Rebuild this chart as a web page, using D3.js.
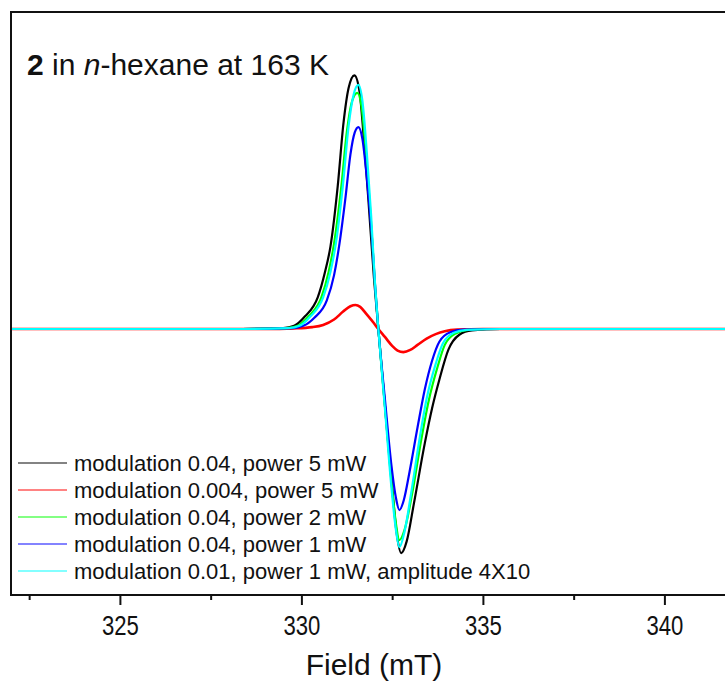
<!DOCTYPE html>
<html>
<head>
<meta charset="utf-8">
<script src="https://cdn.jsdelivr.net/npm/d3@7"></script>
<style>
  html, body { margin: 0; padding: 0; background: #fff; }
  svg { display: block; }
  text { font-family: "Liberation Sans", Arial, sans-serif; fill: #111; }
</style>
</head>
<body>
<svg id="chart" width="725" height="687"></svg>
<script>
// ---- data (field in mT, signal in arbitrary units) ----
const majorTicks = [325, 330, 335, 340];
const minorTicks = [322.5, 327.5, 332.5, 337.5, 342.5];
const xLabel = "Field (mT)";

const seriesNames = [
  "modulation 0.04, power 5 mW",
  "modulation 0.004, power 5 mW",
  "modulation 0.04, power 2 mW",
  "modulation 0.04, power 1 mW",
  "modulation 0.01, power 1 mW, amplitude 4X10"
];
const seriesColors = ["#000000", "#ff0000", "#00ff00", "#0000ff", "#00ffff"];

const blackData = [[322,0],[328,0],[329.5,0.003],[329.8,0.01],[330.1,0.04],[330.45,0.10],[330.65,0.18],[330.8,0.26],[331.0,0.45],[331.16,0.65],[331.3,0.76],[331.46,0.80],[331.6,0.75],[331.72,0.60],[331.85,0.40],[332.0,0.16],[332.12,0],[332.3,-0.24],[332.5,-0.50],[332.62,-0.64],[332.75,-0.707],[332.9,-0.67],[333.1,-0.55],[333.4,-0.36],[333.6,-0.25],[333.8,-0.16],[334.05,-0.065],[334.35,-0.018],[334.7,-0.004],[335.5,0],[342,0]];
const redData = [[322,0],[329,0],[329.8,0.002],[330.3,0.006],[330.6,0.013],[330.9,0.03],[331.15,0.055],[331.35,0.072],[331.49,0.076],[331.62,0.07],[331.8,0.046],[332.0,0.018],[332.12,0],[332.3,-0.025],[332.5,-0.053],[332.65,-0.068],[332.81,-0.073],[333.0,-0.066],[333.2,-0.05],[333.45,-0.03],[333.7,-0.016],[333.95,-0.007],[334.3,-0.002],[335,0],[342,0]];
const greenData = [[322,0],[328,0],[329.6,0.003],[329.9,0.01],[330.2,0.04],[330.55,0.10],[330.75,0.18],[330.9,0.27],[331.1,0.45],[331.25,0.62],[331.4,0.72],[331.54,0.745],[331.66,0.70],[331.78,0.55],[331.9,0.37],[332.02,0.15],[332.12,0],[332.3,-0.24],[332.48,-0.48],[332.6,-0.61],[332.7,-0.666],[332.85,-0.63],[333.05,-0.52],[333.3,-0.35],[333.5,-0.23],[333.75,-0.12],[333.95,-0.05],[334.25,-0.014],[334.6,-0.003],[335.5,0],[342,0]];
const blueData = [[322,0],[328,0],[329.75,0.003],[330.05,0.01],[330.35,0.035],[330.7,0.09],[330.9,0.17],[331.05,0.27],[331.22,0.42],[331.35,0.55],[331.47,0.62],[331.57,0.637],[331.68,0.60],[331.8,0.48],[331.93,0.31],[332.04,0.12],[332.12,0],[332.3,-0.22],[332.48,-0.43],[332.6,-0.53],[332.7,-0.571],[332.82,-0.54],[332.98,-0.45],[333.2,-0.31],[333.4,-0.19],[333.6,-0.10],[333.8,-0.04],[334.1,-0.01],[334.45,-0.002],[335.5,0],[342,0]];
const cyanData = [[322,0],[328,0],[329.65,0.003],[329.95,0.01],[330.25,0.04],[330.6,0.10],[330.8,0.18],[330.95,0.27],[331.15,0.46],[331.3,0.64],[331.44,0.74],[331.57,0.77],[331.68,0.72],[331.8,0.56],[331.92,0.36],[332.03,0.14],[332.12,0],[332.3,-0.25],[332.48,-0.50],[332.6,-0.63],[332.7,-0.688],[332.84,-0.64],[333.02,-0.52],[333.25,-0.35],[333.45,-0.22],[333.7,-0.11],[333.9,-0.045],[334.2,-0.012],[334.55,-0.003],[335.5,0],[342,0]];

const allSeries = [blackData, redData, greenData, blueData, cyanData];

// ---- layout ----
const svg = d3.select("#chart");
const plot = { left: 11, top: 12, right: 737, bottom: 595 };

const x = d3.scaleLinear().domain([322, 342]).range([plot.left, plot.right]);
const y = d3.scaleLinear().domain([-0.839, 1.0]).range([plot.bottom, plot.top]);

// curves
const line = d3.line().x(d => x(d[0])).y(d => y(d[1])).curve(d3.curveMonotoneX);
const clip = svg.append("clipPath").attr("id", "clip").append("rect")
  .attr("x", plot.left).attr("y", plot.top)
  .attr("width", plot.right - plot.left).attr("height", plot.bottom - plot.top);

const curves = svg.append("g").attr("clip-path", "url(#clip)");
allSeries.forEach((s, i) => {
  curves.append("path")
    .datum(s)
    .attr("d", line)
    .attr("fill", "none")
    .attr("stroke", seriesColors[i])
    .attr("stroke-width", i === 1 ? 2.6 : 2.2)
    .attr("stroke-linejoin", "round");
});

// frame
svg.append("rect")
  .attr("x", plot.left).attr("y", plot.top)
  .attr("width", plot.right - plot.left).attr("height", plot.bottom - plot.top)
  .attr("fill", "none").attr("stroke", "#111").attr("stroke-width", 2);

// x axis: major ticks with labels
const xAxis = svg.append("g")
  .attr("transform", `translate(0,${plot.bottom})`)
  .call(d3.axisBottom(x).tickValues(majorTicks).tickSize(10).tickFormat(d3.format("d")));
xAxis.select(".domain").remove();
xAxis.selectAll(".tick line").attr("stroke", "#111").attr("stroke-width", 2);
xAxis.selectAll(".tick text")
  .attr("y", 40).attr("dy", 0)
  .attr("transform", "scale(0.82,1)")
  .style("font-size", "27px")
  .attr("fill", "#111");

// minor ticks
const xMinor = svg.append("g")
  .attr("transform", `translate(0,${plot.bottom})`)
  .call(d3.axisBottom(x).tickValues(minorTicks).tickSize(5).tickFormat(""));
xMinor.select(".domain").remove();
xMinor.selectAll(".tick line").attr("stroke", "#111").attr("stroke-width", 2);

// x label
svg.append("text")
  .attr("x", (plot.left + plot.right) / 2)
  .attr("y", 675)
  .attr("text-anchor", "middle")
  .style("font-size", "30px")
  .text(xLabel);

// title
const title = svg.append("text").attr("x", 27).attr("y", 75).style("font-size", "30px");
title.append("tspan").style("font-weight", "bold").text("2");
title.append("tspan").text(" in ");
title.append("tspan").style("font-style", "italic").text("n");
title.append("tspan").text("-hexane at 163 K");

// legend
const legend = svg.append("g");
seriesNames.forEach((name, i) => {
  const cy = 463 + i * 27;
  legend.append("line")
    .attr("x1", 18).attr("x2", 67).attr("y1", cy).attr("y2", cy)
    .attr("stroke", seriesColors[i]).attr("stroke-width", 1.6).attr("stroke-opacity", 0.65);
  legend.append("text")
    .attr("x", 74).attr("y", cy).attr("dy", "0.36em")
    .style("font-size", "22px")
    .text(name);
});
</script>
</body>
</html>
